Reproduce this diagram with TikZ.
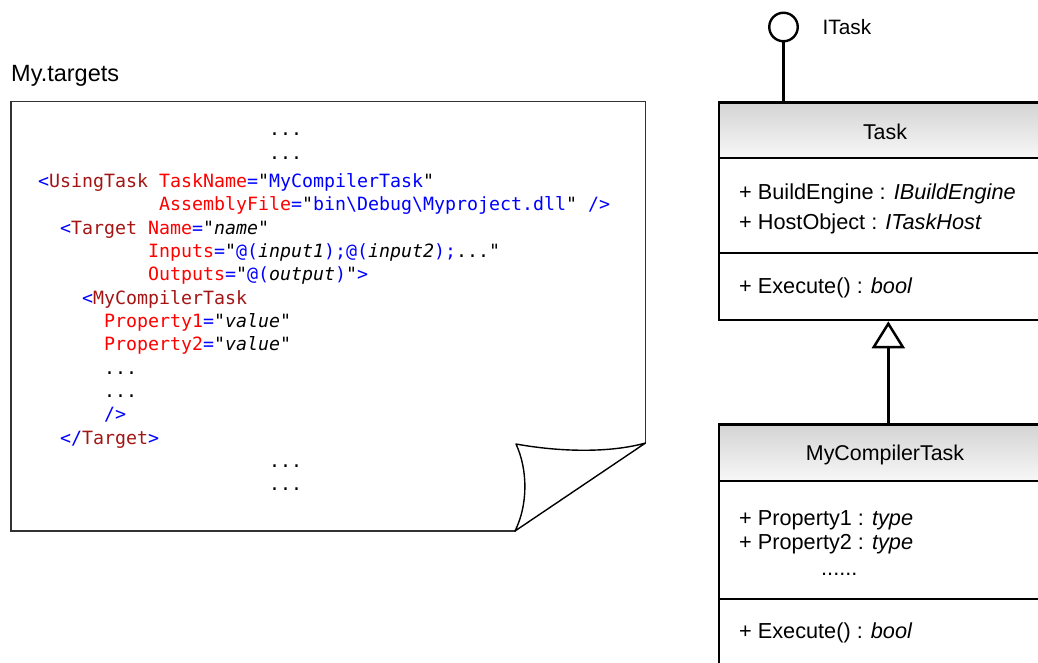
\documentclass[tikz,border=0pt]{standalone}
\usepackage{fontspec}
\setmainfont{Liberation Sans}
\newfontfamily\codefont{DejaVu Sans Mono}
\usetikzlibrary{arrows.meta}
\definecolor{xblue}{RGB}{0,0,255}
\definecolor{xdred}{RGB}{163,21,21}
\definecolor{xred}{RGB}{255,0,0}
\definecolor{docgray}{RGB}{50,50,50}
\newcommand\xB[1]{\textcolor{xblue}{#1}}
\newcommand\xD[1]{\textcolor{xdred}{#1}}
\newcommand\xR[1]{\textcolor{xred}{#1}}
\newcommand\xI[1]{{\itshape #1}}
\newcommand\bsl{\textbackslash}
\tikzset{
  code/.style={anchor=base west, inner sep=0pt, font=\codefont\fontsize{18.27}{20}\selectfont},
  umltxt/.style={anchor=base west, inner sep=0pt, font=\fontsize{21.7}{24}\selectfont},
  umltitle/.style={anchor=base, inner sep=0pt, font=\fontsize{21.4}{24}\selectfont},
  umlline/.style={line width=2.6pt, black},
  docline/.style={line width=1.6pt, docgray},
  curlline/.style={line width=1.4pt, black, line join=round},
  hdr/.style={top color=black!17, bottom color=black!3, draw=none},
}
\begin{document}
\begin{tikzpicture}[x=1pt,y=-1pt]
\useasboundingbox (0,0) rectangle (1038,662);
\clip (0,0) rectangle (1038,662);

% ---------- document (My.targets) ----------
\node[anchor=base west, inner sep=0pt, font=\fontsize{23.5}{26}\selectfont] (title) at (11,81) {My.targets};
\draw[docline] (516,531) -- (11,531) -- (11,101.5) -- (645.5,101.5) -- (645.5,443);
\draw[curlline, fill=white] (645.5,443) .. controls (610,453) and (560,452) .. (516,444)
   .. controls (528,470) and (528,505) .. (515,531) -- cycle;

% code lines: x = 38 + 11*col
\node[code] (l1)  at (269,135)   {...};
\node[code] (l2)  at (269,159)   {...};
\node[code] (l3)  at (38,187.3)  {\xB{<}\xD{UsingTask} \xR{TaskName}\xB{=}"\xB{MyCompilerTask}"};
\node[code] (l4)  at (159,210.7) {\xR{AssemblyFile}\xB{=}"\xB{bin\bsl Debug\bsl Myproject.dll}" \xB{/>}};
\node[code] (l5)  at (60,234)    {\xB{<}\xD{Target} \xR{Name}\xB{=}"\xI{name}"};
\node[code] (l6)  at (148,257.3) {\xR{Inputs}\xB{=}"\xB{@(}\xI{input1}\xB{);@(}\xI{input2}\xB{);}..."};
\node[code] (l7)  at (148,280.7) {\xR{Outputs}\xB{=}"\xB{@(}\xI{output}\xB{)}"\xB{>}};
\node[code] (l8)  at (82,304)    {\xB{<}\xD{MyCompilerTask}};
\node[code] (l9)  at (104,327.3) {\xR{Property1}\xB{=}"\xI{value}"};
\node[code] (l10) at (104,350.7) {\xR{Property2}\xB{=}"\xI{value}"};
\node[code] (l11) at (104,374)   {...};
\node[code] (l12) at (104,397.3) {...};
\node[code] (l13) at (104,420.7) {\xB{/>}};
\node[code] (l14) at (60,444)    {\xB{</}\xD{Target}\xB{>}};
\node[code] (l15) at (269,467.3) {...};
\node[code] (l16) at (269,490.7) {...};

% ---------- UML: Task ----------
\fill[hdr] (719,102.5) rectangle (1051,158);
\draw[umlline] (719,320) -- (719,102.5) -- (1051,102.5) -- (1051,320) -- cycle;
\draw[umlline] (719,158) -- (1051,158);
\draw[umlline] (719,253) -- (1051,253);
\node[umltitle] (taskT) at (885,139.3) {Task};
\node[umltxt] (taskA1) at (739,199) {+ BuildEngine : \textit{IBuildEngine}};
\node[umltxt] (taskA2) at (739,229.5) {+ HostObject : \textit{ITaskHost}};
\node[umltxt] (taskM1) at (739,293) {+ Execute() : \textit{bool}};
\coordinate (taskTop) at (783.5,102.5);
\coordinate (taskBot) at (888.3,321.3);

% interface lollipop
\node[draw, circle, line width=2.4pt, minimum size=28.5pt, inner sep=0pt, fill=white] (iface) at (783.5,27) {};
\node[anchor=base west, inner sep=0pt, font=\fontsize{20.8}{24}\selectfont] (ifaceT) at (822.5,34.4) {ITask};
\draw[umlline] (iface.south) -- (taskTop);

% ---------- UML: MyCompilerTask ----------
\fill[hdr] (719,424.3) rectangle (1051,481);
\draw[umlline] (719,700) -- (719,424.3) -- (1051,424.3) -- (1051,700);
\draw[umlline] (719,481) -- (1051,481);
\draw[umlline] (719,599) -- (1051,599);
\node[umltitle] (subT) at (885,460) {MyCompilerTask};
\node[umltxt] (subA1) at (739,525) {+ Property1 : \textit{type}};
\node[umltxt] (subA2) at (739,549) {+ Property2 : \textit{type}};
\node[umltxt] (subA3) at (821,575) {......};
\node[umltxt] (subM1) at (739,638) {+ Execute() : \textit{bool}};
\coordinate (subTop) at (888.3,424.3);

% generalization
\draw[umlline, -{Triangle[open, length=27pt, width=33pt, line width=2.5pt, fill=white]}] (subTop) -- (taskBot);
\end{tikzpicture}
\end{document}
